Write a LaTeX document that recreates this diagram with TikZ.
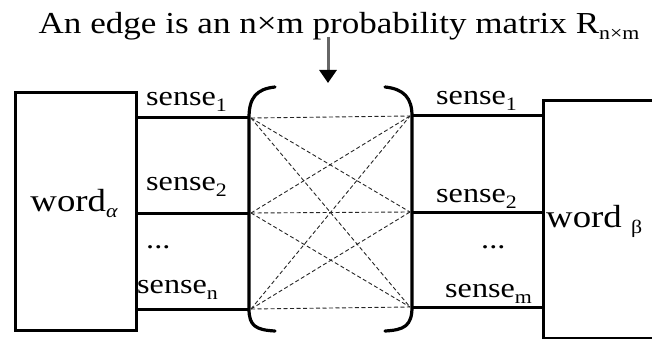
\documentclass[tikz,border=0pt]{standalone}
\usepackage{fontspec}
\setmainfont[FakeStretch=1.15]{Liberation Serif}
\usetikzlibrary{arrows.meta}
\newcommand\mysub[1]{\raisebox{-6pt}{\fontsize{19}{19}\selectfont #1}}
\begin{document}
\begin{tikzpicture}[x=1pt,y=-1pt,
  boxline/.style={draw, line width=3pt, black},
  wire/.style={line width=3pt, black},
  brack/.style={line width=3.2pt, black, line cap=round},
  dline/.style={dashed, dash pattern=on 4pt off 2.5pt, line width=0.9pt, black!85},
  lbl/.style={inner sep=0pt, font=\fontsize{28}{28}\selectfont},
  wlbl/.style={inner sep=0pt, font=\fontsize{32}{32}\selectfont},
  pointer/.style={line width=3pt, black!60, -{Triangle[width=17pt,length=13pt,color=black]}}]
\useasboundingbox (0,0) rectangle (652,339);
% title
\node[inner sep=0pt, anchor=base, font=\fontsize{30.5}{30.5}\selectfont] (title) at (339,34)
  {An edge is an n×m probability matrix R\mysub{n×m}};
\coordinate (atop) at (328,37);
\coordinate (atip) at (328,83);
\draw[pointer] (atop) -- (atip);
% boxes
\node[boxline, minimum width=121pt, minimum height=238pt, anchor=north west, inner sep=0pt] (wa) at (14,91) {};
\node[boxline, minimum width=170pt, minimum height=238pt, anchor=north west, inner sep=0pt] (wb) at (542,99) {};
\node[wlbl, anchor=base] (walbl) at (74,211) {word\mysub{\itshape α}};
\node[wlbl, anchor=base west] (wblbl) at (546,227) {word \mysub{β}};
% end points
\coordinate (L1) at (249,118);
\coordinate (L2) at (249,213);
\coordinate (L3) at (249,309);
\coordinate (R1) at (412,116);
\coordinate (R2) at (412,212);
\coordinate (R3) at (412,307);
% wires
\foreach \p in {L1,L2,L3} \draw[wire] (wa.east |- \p) -- (\p);
\foreach \p in {R1,R2,R3} \draw[wire] (\p) -- (wb.west |- \p);
% brackets
\draw[brack] (275,87) .. controls (256,89) and (249,98) .. (249,118) -- (249,309)
  .. controls (249,326) and (256,330) .. (275,331);
\draw[brack] (385,87) .. controls (404,89) and (412,98) .. (412,116) -- (412,307)
  .. controls (412,326) and (404,330) .. (385,331);
% dashed connections
\foreach \a in {L1,L2,L3} \foreach \b in {R1,R2,R3} \draw[dline] ([xshift=2pt]\a) -- ([xshift=-2pt]\b);
% sense labels
\node[lbl, anchor=base west] (ls1) at (146,106) {sense\mysub{1}};
\node[lbl, anchor=base west] (ls2) at (146,190) {sense\mysub{2}};
\node[lbl, anchor=base west] (ldots) at (146,248) {...};
\node[lbl, anchor=base west] (lsn) at (137,293) {sense\mysub{n}};
\node[lbl, anchor=base west] (rs1) at (436,105) {sense\mysub{1}};
\node[lbl, anchor=base west] (rs2) at (436,202) {sense\mysub{2}};
\node[lbl, anchor=base west] (rdots) at (481,248) {...};
\node[lbl, anchor=base west] (rsm) at (445,297) {sense\mysub{m}};
\end{tikzpicture}
\end{document}
